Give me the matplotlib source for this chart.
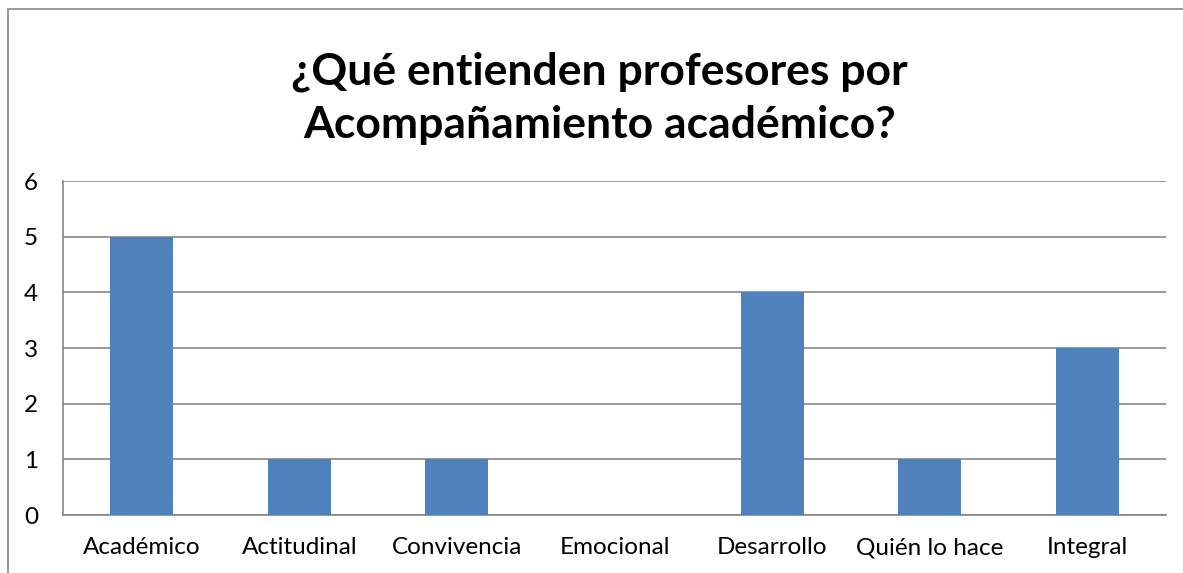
import matplotlib.pyplot as plt
from matplotlib.patches import Rectangle

categories = ["Académico", "Actitudinal", "Convivencia", "Emocional",
              "Desarrollo", "Quién lo hace", "Integral"]
values = [5, 1, 1, 0, 4, 1, 3]
y_ticks = [0, 1, 2, 3, 4, 5, 6]

title = "¿Qué entienden profesores por\nAcompañamiento académico?"

plt.rcParams["font.family"] = ["Lato", "DejaVu Sans"]

fig = plt.figure(figsize=(11.83, 5.73), dpi=100)
ax = fig.add_axes([0.0533, 0.1012, 0.9323, 0.5829])

x = range(len(categories))
ax.bar(x, values, width=0.4, color="#4F81BD", zorder=3)

ax.set_xlim(-0.5, len(categories) - 0.5)
ax.set_ylim(0, 6)
ax.set_yticks(y_ticks)
ax.set_xticks(list(x))
ax.set_xticklabels(categories)
ax.tick_params(axis="both", length=0, labelsize=17.5, colors="black")
ax.tick_params(axis="y", pad=18)
ax.tick_params(axis="x", pad=16)
ax.grid(axis="y", color="#868686", linewidth=1.2, zorder=0)

for side in ["top", "right"]:
    ax.spines[side].set_visible(False)
for side in ["left", "bottom"]:
    ax.spines[side].set_color("#868686")
    ax.spines[side].set_linewidth(1.2)

fig.text(0.507, 0.828, title, ha="center", va="center", fontsize=32,
         fontweight="bold", linespacing=1.4)

# outer chart border (cropped at right and bottom)
fig.patches.append(Rectangle((8 / 1183, -0.1), 1.2, (573 - 9) / 573 + 0.1,
                             transform=fig.transFigure, fill=False,
                             edgecolor="#868686", linewidth=1.2))

fig.savefig("out.png", dpi=100)
